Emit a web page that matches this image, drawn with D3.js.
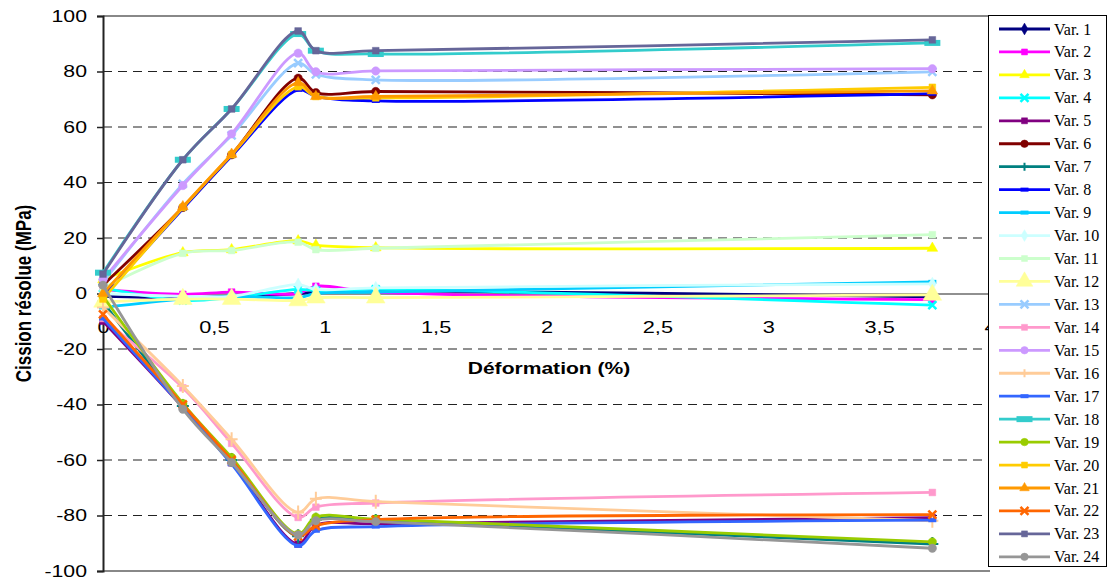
<!DOCTYPE html>
<html><head><meta charset="utf-8">
<script src="https://cdn.jsdelivr.net/npm/d3@7"></script>
<style>body{margin:0;background:#fff}svg{display:block}</style>
</head><body>
<svg id="c" width="1108" height="581"></svg>
<script>
const strain = [0, 0.36, 0.58, 0.88, 0.96, 1.23, 3.74];
const seriesNames = ["Var. 1","Var. 2","Var. 3","Var. 4","Var. 5","Var. 6","Var. 7","Var. 8","Var. 9","Var. 10","Var. 11","Var. 12","Var. 13","Var. 14","Var. 15","Var. 16","Var. 17","Var. 18","Var. 19","Var. 20","Var. 21","Var. 22","Var. 23","Var. 24"];
const var1  = [-1, -1.5, -1, 0, 0.5, 1, -1.2];
const var2  = [1.5, -0.3, 0.5, 0, 2.6, 0.5, -2.2];
const var3  = [5, 14.7, 15.8, 19, 17.4, 16.5, 16.3];
const var4  = [2, -2.5, -1.5, 1.5, 1, 1.5, -4.2];
const var5  = [-10, -41, -61, -90.3, -83.5, -83, -80.8];
const var6  = [3, 31, 50, 77.6, 72.4, 72.8, 71.6];
const var7  = [-3, -40.5, -60, -87.5, -81.5, -82, -90.3];
const var8  = [-1, 30.5, 49.5, 73.4, 71, 69.4, 72];
const var9  = [-5, -2, -1, -1.5, 0, 0.5, 4.2];
const var10 = [0, -1, -1, 3.2, 1.5, 2, 3.5];
const var11 = [2, 14.5, 15.5, 18.5, 15.8, 16.3, 21.2];
const var12 = [-3, -2, -2, -2.5, -1.5, -1.5, -0.5];
const var13 = [4, 39.5, 57, 83, 79, 77, 79.9];
const var14 = [-9, -34, -54, -80.7, -77, -75.5, -71.7];
const var15 = [5, 38.9, 57.5, 86.6, 79.9, 80.2, 81];
const var16 = [-5, -33.3, -52.5, -78.9, -74, -75, -81.9];
const var17 = [-9, -41, -61.5, -90.9, -85.5, -84, -81.7];
const var18 = [7.5, 48.2, 66.5, 93.5, 87.5, 86.3, 90.3];
const var19 = [-1, -39.6, -59.1, -86.7, -80.6, -81.3, -89.5];
const var20 = [-2, 31, 50, 74.5, 71, 70.5, 74.3];
const var21 = [0, 31.3, 50.2, 76, 71, 71, 73];
const var22 = [-7.5, -40, -60, -87.5, -83.7, -81.5, -79.7];
const var23 = [7, 48.2, 66.5, 94.6, 87.5, 87.5, 91.4];
const var24 = [3, -41.7, -60.9, -87, -81.9, -82.2, -91.8];
const seriesValues = [var1,var2,var3,var4,var5,var6,var7,var8,var9,var10,var11,var12,var13,var14,var15,var16,var17,var18,var19,var20,var21,var22,var23,var24];
const yTicks = [100,80,60,40,20,0,-20,-40,-60,-80,-100];
const xTicks = [0,0.5,1,1.5,2,2.5,3,3.5,4];

const colors = ["#000080","#FF00FF","#FFFF00","#00FFFF","#800080","#800000","#008080","#0000FF","#00CCFF","#CCFFFF","#CCFFCC","#FFFF99","#99CCFF","#FF99CC","#CC99FF","#FFCC99","#3366FF","#33CCCC","#99CC00","#FFCC00","#FF9900","#FF6600","#666699","#969696"];
const markers = ["diamond","square","triangle","x","square","circle","plus","dash","dash","diamond","square","bigtriangle","x","square","circle","plus","dash","widedash","circle","square","triangle","x","square","circle"];

const svg = d3.select("#c");
const x = d3.scaleLinear().domain([0,4]).range([103,990]);
const y = d3.scaleLinear().domain([-100,100]).range([571,16]);
const SANS = "Liberation Sans, Arial, sans-serif";

// grid
svg.append("g").selectAll("line").data(yTicks.filter(t=>t!==0 && Math.abs(t)!==100)).join("line")
  .attr("x1",x(0)).attr("x2",x(4)).attr("y1",d=>y(d)).attr("y2",d=>y(d))
  .attr("stroke","#222").attr("stroke-width",1.2).attr("stroke-dasharray","9,6");
// plot border top/bottom
svg.append("line").attr("x1",x(0)).attr("x2",x(4)).attr("y1",y(100)).attr("y2",y(100)).attr("stroke","#888").attr("stroke-width",2);
svg.append("line").attr("x1",x(0)).attr("x2",x(4)).attr("y1",y(-100)).attr("y2",y(-100)).attr("stroke","#888").attr("stroke-width",2);

// y axis
const yAxis = d3.axisLeft(y).tickValues(yTicks).tickSize(6).tickFormat(d=>String(d));
const gy = svg.append("g").attr("transform",`translate(${x(0)},0)`).call(yAxis);
gy.select(".domain").attr("stroke","#222").attr("stroke-width",2);
gy.selectAll(".tick line").attr("stroke","#222").attr("stroke-width",1.5);
gy.selectAll("text").attr("font-family",SANS).attr("font-size",17).attr("fill","#000")
  .attr("x",0).attr("transform","translate(-16,0) scale(1.25,1)");

// x axis at y=0
const xAxis = d3.axisBottom(x).tickValues(xTicks).tickSize(0).tickFormat(d=>String(d).replace(".",","));
const gx = svg.append("g").attr("transform",`translate(0,${y(0)})`).call(xAxis);
gx.select(".domain").attr("stroke","#222").attr("stroke-width",1.2);
gx.selectAll("text").attr("font-family",SANS).attr("font-size",17).attr("fill","#000")
  .attr("y",27).attr("transform","scale(1.28,1)");
gx.selectAll(".tick").each(function(){ d3.select(this).select("text").attr("transform","scale(1.28,1)"); });

// titles
svg.append("text").attr("transform","translate(549,374) scale(1.24,1)").attr("text-anchor","middle")
  .attr("font-family",SANS).attr("font-size",17).attr("font-weight","bold").text("Déformation (%)");
svg.append("text").attr("transform",`translate(31,${y(0)}) rotate(-90) scale(1,1.3)`).attr("text-anchor","middle")
  .attr("font-family",SANS).attr("font-size",17).attr("font-weight","bold").text("Cission résolue (MPa)");

function drawMarker(g, type, color, cx, cy, small){
  const k = small ? 0.8 : 1;
  const s = {
    diamond: d3.symbol(d3.symbolDiamond, 50*k),
    square: d3.symbol(d3.symbolSquare, 45*k),
    triangle: d3.symbol(d3.symbolTriangle, 50*k),
    bigtriangle: d3.symbol(d3.symbolTriangle, 150*k),
    circle: d3.symbol(d3.symbolCircle, 55*k)
  };
  if (s[type]) {
    g.append("path").attr("d", s[type]()).attr("transform",`translate(${cx},${cy})`).attr("fill",color).attr("stroke",color).attr("stroke-width",0.5);
  } else if (type==="x") {
    g.append("path").attr("d","M-4,-4L4,4M-4,4L4,-4").attr("transform",`translate(${cx},${cy})`).attr("stroke",color).attr("stroke-width",2.5);
  } else if (type==="plus") {
    g.append("path").attr("d", small ? "M-4,0L4,0M0,-4L0,4" : "M-6,0L6,0M0,-7L0,7").attr("transform",`translate(${cx},${cy})`).attr("stroke",color).attr("stroke-width",2);
  } else if (type==="dash") {
    g.append("rect").attr("x",cx-4).attr("y",cy-2).attr("width",8).attr("height",4).attr("fill",color);
  } else if (type==="widedash") {
    g.append("rect").attr("x",cx-8).attr("y",cy-3).attr("width",16).attr("height",6).attr("fill",color);
  }
}

const line = d3.line().x((d,i)=>x(strain[i])).y(d=>y(d)).curve(d3.curveCatmullRom.alpha(0.5));
const plot = svg.append("g");
seriesValues.forEach((vals,k)=>{
  const g = plot.append("g");
  g.append("path").attr("d", line(vals)).attr("fill","none").attr("stroke",colors[k]).attr("stroke-width",2.8).attr("stroke-linejoin","round");
  vals.forEach((v,i)=>drawMarker(g, markers[k], colors[k], x(strain[i]), y(v)));
});

// legend
const lg = svg.append("g");
lg.append("rect").attr("x",988.5).attr("y",15.5).attr("width",118).attr("height",551).attr("fill","#fff").attr("stroke","#000").attr("stroke-width",1);
seriesNames.forEach((n,k)=>{
  const cy = 29 + k*22.95;
  lg.append("line").attr("x1",999).attr("x2",1050).attr("y1",cy).attr("y2",cy).attr("stroke",colors[k]).attr("stroke-width",2.8);
  drawMarker(lg, markers[k], colors[k], 1024.5, cy, true);
  lg.append("text").attr("x",1054).attr("y",cy+5.5).attr("font-family","Liberation Serif, Times New Roman, serif").attr("font-size",16).text(n);
});
</script>
</body></html>
